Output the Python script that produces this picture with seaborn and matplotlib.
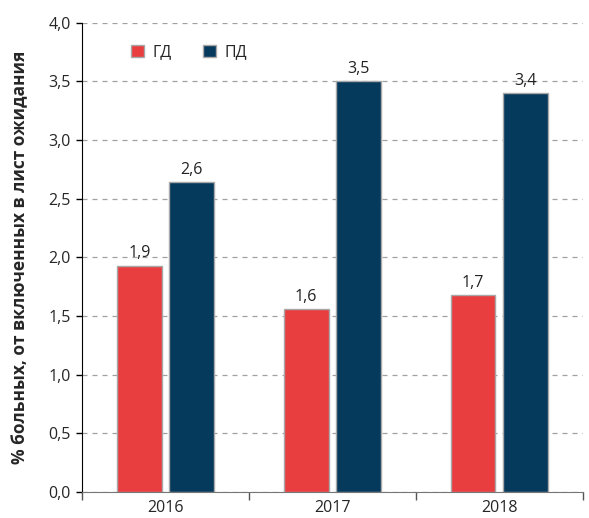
import pandas as pd
import numpy as np
import matplotlib.pyplot as plt
import seaborn as sns
from matplotlib.ticker import FixedLocator

# data
years = ['2016', '2017', '2018']
gd = [1.93, 1.56, 1.68]
pd_vals = [2.64, 3.50, 3.40]

df = pd.DataFrame({
    'year': years * 2,
    'type': ['ГД'] * 3 + ['ПД'] * 3,
    'value': gd + pd_vals,
})

sns.set_style('white')
plt.rcParams['font.family'] = ['Open Sans', 'DejaVu Sans']

fig = plt.figure(figsize=(5.89, 5.18), dpi=100)
ax = fig.add_axes([0.139, 0.05, 0.85, 0.906])

palette = {'ГД': '#E83E40', 'ПД': '#063A5C'}
sns.barplot(data=df, x='year', y='value', hue='type', palette=palette,
            width=0.625, gap=0.14, edgecolor='#a8a8a8', linewidth=1,
            saturation=1, ax=ax, zorder=3)

# labels above bars
for cont in ax.containers:
    ax.bar_label(cont, labels=[f'{v:.1f}'.replace('.', ',') for v in cont.datavalues],
                 padding=3, fontsize=11.5, color='#222222')

ax.set_ylim(0, 4.0)
ax.set_xlim(-0.5, 2.5)
yt = np.arange(0, 4.01, 0.5)
ax.set_yticks(yt)
ax.set_yticklabels([f'{v:.1f}'.replace('.', ',') for v in yt], fontsize=11.5)
ax.yaxis.grid(True, linestyle=(0, (4, 4)), color='#a0a0a0', linewidth=0.9, zorder=0)
ax.tick_params(axis='y', length=4, width=1, color='black', left=True, pad=4)

ax.tick_params(axis='x', which='major', length=0, labelsize=11.5, pad=6)
ax.xaxis.set_minor_locator(FixedLocator([-0.5, 0.5, 1.5, 2.5]))
ax.tick_params(axis='x', which='minor', length=6, width=1, color='#555555', bottom=True)

ax.set_xlabel('')
ax.set_ylabel('% больных, от включенных в лист ожидания', fontsize=12.5,
              fontweight='bold', labelpad=14)

for s in ['top', 'right']:
    ax.spines[s].set_visible(False)
ax.spines['left'].set_color('black')
ax.spines['bottom'].set_color('#777777')

ax.legend(loc='upper left', bbox_to_anchor=(0.07, 0.985), ncol=2, frameon=False,
          handlelength=0.8, handleheight=0.8, columnspacing=2.0, handletextpad=0.5,
          fontsize=11.5, title=None)

fig.savefig('out.png', dpi=100)
